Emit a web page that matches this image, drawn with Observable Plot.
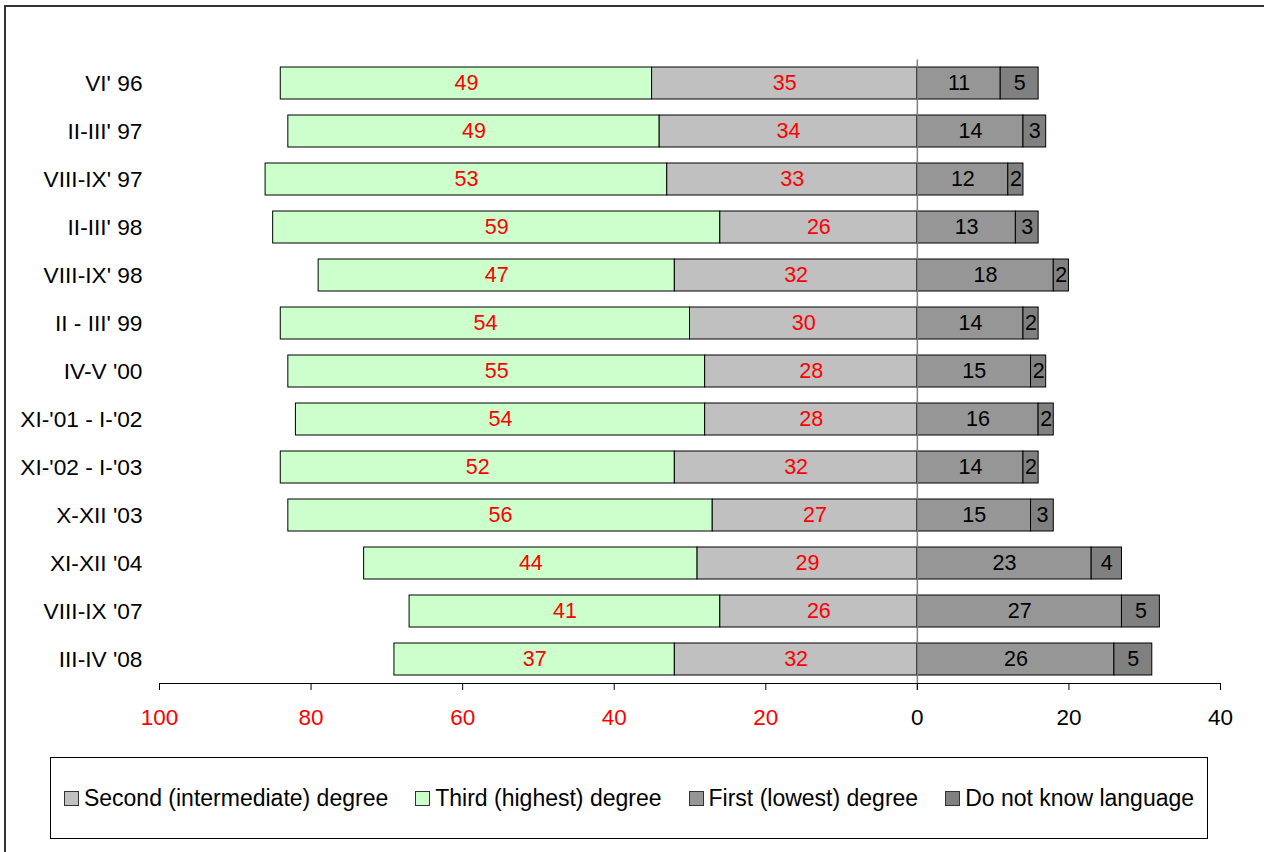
<!DOCTYPE html>
<html>
<head>
<meta charset="utf-8">
<script src="https://cdn.jsdelivr.net/npm/d3@7"></script>
<script src="https://cdn.jsdelivr.net/npm/@observablehq/plot@0.6"></script>
<style>
  html, body { margin: 0; padding: 0; background: #fff; }
  #wrap { position: relative; width: 1264px; height: 852px; overflow: hidden; font-family: "Liberation Sans", Arial, sans-serif; }
  #outer { position: absolute; left: 4px; top: 5px; width: 1400px; height: 1000px; border-top: 2px solid #333; border-left: 2px solid #333; }
  #chart { position: absolute; left: 0; top: 0; }
  #legend { position: absolute; left: 50px; top: 757px; width: 1156px; height: 80px; border: 1px solid #000; background: #fff;
            display: flex; align-items: center; justify-content: center; gap: 27px; font-size: 23px; color: #000; }
  .item { display: flex; align-items: center; gap: 5px; white-space: nowrap; }
  .sw { width: 13px; height: 13px; border: 1px solid #333; }
</style>
</head>
<body>
<div id="wrap">
  <div id="outer"></div>
  <div id="chart"></div>
  <div id="legend"></div>
</div>
<script>
const periods = ["VI' 96", "II-III' 97", "VIII-IX' 97", "II-III' 98", "VIII-IX' 98", "II - III' 99", "IV-V '00",
                 "XI-'01 - I-'02", "XI-'02 - I-'03", "X-XII '03", "XI-XII '04", "VIII-IX '07", "III-IV '08"];
const third  = [49, 49, 53, 59, 47, 54, 55, 54, 52, 56, 44, 41, 37];
const second = [35, 34, 33, 26, 32, 30, 28, 28, 32, 27, 29, 26, 32];
const first  = [11, 14, 12, 13, 18, 14, 15, 16, 14, 15, 23, 27, 26];
const dnk    = [5, 3, 2, 3, 2, 2, 2, 2, 2, 3, 4, 5, 5];

const seriesNames = ["Second (intermediate) degree", "Third (highest) degree", "First (lowest) degree", "Do not know language"];
const seriesColors = ["#C0C0C0", "#CCFFCC", "#969696", "#808080"];
const leftTicks = [-100, -80, -60, -40, -20];
const rightTicks = [0, 20, 40];

const rows = [];
periods.forEach((p, i) => {
  rows.push({period: p, series: seriesNames[1], x1: -(third[i] + second[i]), x2: -second[i], v: third[i], side: "left"});
  rows.push({period: p, series: seriesNames[0], x1: -second[i], x2: 0, v: second[i], side: "left"});
  rows.push({period: p, series: seriesNames[2], x1: 0, x2: first[i], v: first[i], side: "right"});
  rows.push({period: p, series: seriesNames[3], x1: first[i], x2: first[i] + dnk[i], v: dnk[i], side: "right"});
});

const chart = Plot.plot({
  width: 1264,
  height: 745,
  marginLeft: 159,
  marginRight: 44,
  marginTop: 59.6,
  marginBottom: 62,
  style: {fontFamily: "'Liberation Sans', Arial, sans-serif", fontSize: "22px", background: "transparent", color: "#000"},
  x: {domain: [-100, 40]},
  y: {domain: periods, paddingInner: 0.333, paddingOuter: 0.16},
  color: {domain: seriesNames, range: seriesColors},
  marks: [
    Plot.barX(rows, {x1: "x1", x2: "x2", y: "period", fill: "series", stroke: "#000", strokeWidth: 1}),
    Plot.text(rows.filter(d => d.side === "left"), {x: d => (d.x1 + d.x2) / 2, y: "period", text: "v", fill: "#FF0000", fontSize: 21.5}),
    Plot.text(rows.filter(d => d.side === "right"), {x: d => (d.x1 + d.x2) / 2, y: "period", text: "v", fill: "#000", fontSize: 21.5}),
    Plot.ruleX([0], {stroke: "#808080", strokeWidth: 1.5, insetBottom: -7}),
    Plot.frame({anchor: "bottom", stroke: "#000", strokeWidth: 1}),
    Plot.axisY({tickSize: 0, tickPadding: 17, label: null, fill: "#000", fontSize: 22.7}),
    Plot.axisX({ticks: leftTicks, tickFormat: d => Math.abs(d), tickSize: 7, tickPadding: 19, label: null, fill: "#FF0000", stroke: "#000", fontSize: 22.5}),
    Plot.axisX({ticks: rightTicks, tickFormat: d => Math.abs(d), tickSize: 7, tickPadding: 19, label: null, fill: "#000", stroke: "#000", fontSize: 22.5})
  ]
});
document.getElementById("chart").appendChild(chart);

const legend = document.getElementById("legend");
seriesNames.forEach((name, i) => {
  const item = document.createElement("div");
  item.className = "item";
  const sw = document.createElement("div");
  sw.className = "sw";
  sw.style.background = seriesColors[i];
  const t = document.createElement("span");
  t.textContent = name;
  item.appendChild(sw);
  item.appendChild(t);
  legend.appendChild(item);
});
</script>
</body>
</html>
